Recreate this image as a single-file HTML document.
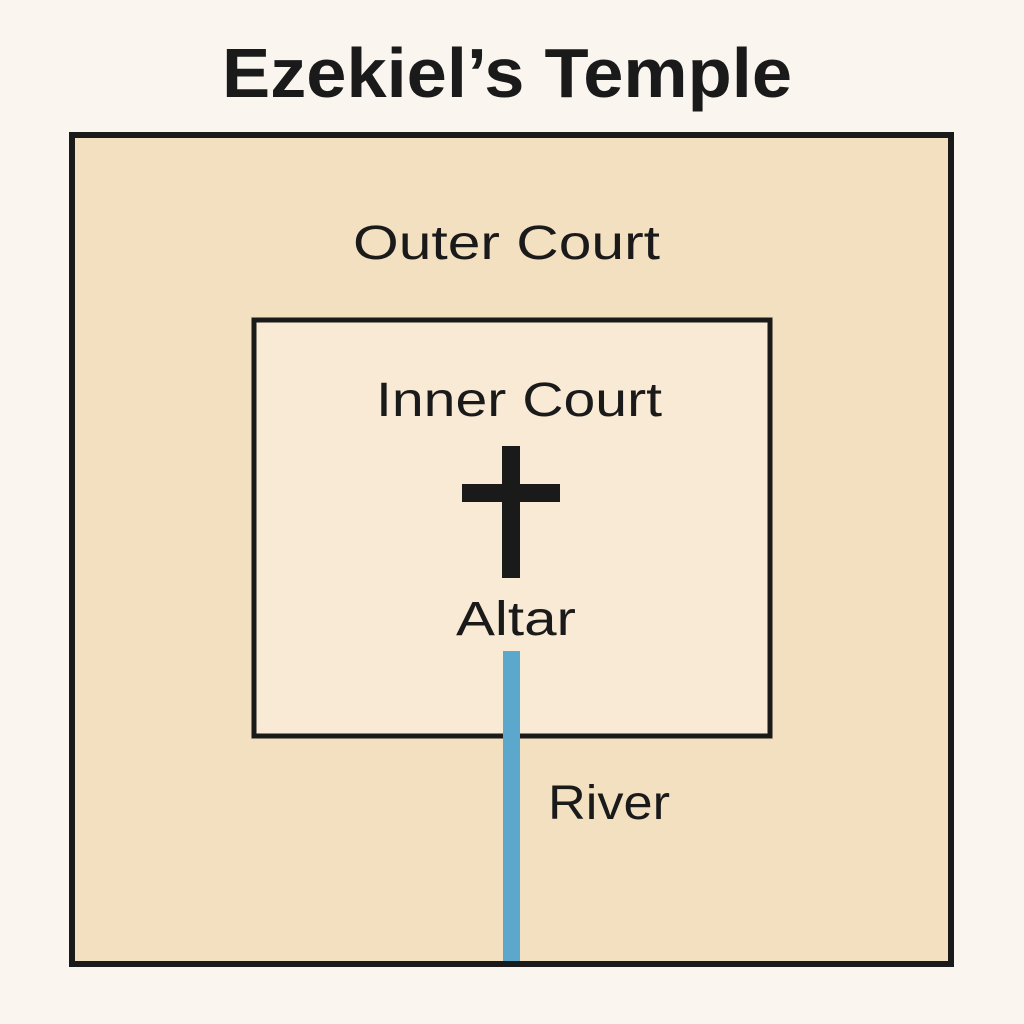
<!DOCTYPE html>
<html><head><style>
body{margin:0;background:#faf6ef;}
svg{display:block}
text{font-family:"Liberation Sans",sans-serif;fill:#1a1a1a}
</style></head><body>
<svg width="1024" height="1024" viewBox="0 0 1024 1024">
<rect width="1024" height="1024" fill="#faf6ef"/>
<text x="222" y="97" font-size="70" font-weight="bold" textLength="570" lengthAdjust="spacingAndGlyphs">Ezekiel’s Temple</text>
<rect x="72" y="135" width="879" height="829" fill="#f3e0c0" stroke="#1a1a1a" stroke-width="6"/>
<text x="353" y="259" font-size="48" textLength="307" lengthAdjust="spacingAndGlyphs">Outer Court</text>
<rect x="254" y="320" width="516" height="416" fill="#f8ead4" stroke="#1a1a1a" stroke-width="5"/>
<text x="376" y="416" font-size="48" textLength="286" lengthAdjust="spacingAndGlyphs">Inner Court</text>
<rect x="502" y="446" width="18" height="132" fill="#1a1a1a"/>
<rect x="462" y="484" width="98" height="18" fill="#1a1a1a"/>
<text x="456" y="635" font-size="48" textLength="120" lengthAdjust="spacingAndGlyphs">Altar</text>
<rect x="503" y="651" width="17" height="310" fill="#5ba8cc"/>
<text x="548" y="819" font-size="48" textLength="122" lengthAdjust="spacingAndGlyphs">River</text>
</svg>
</body></html>
